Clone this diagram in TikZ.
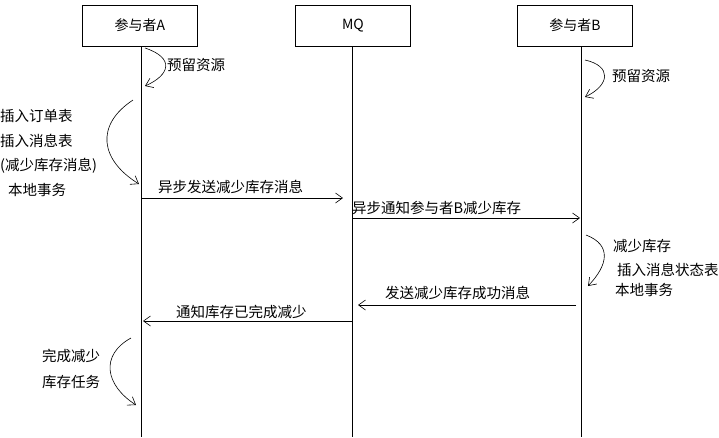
\documentclass[tikz,border=0pt]{standalone}
\usepackage{fontspec}
\setmainfont{Noto Sans CJK SC}
\usetikzlibrary{arrows.meta}
\begin{document}
\begin{tikzpicture}[x=1pt,y=-1pt,
  box/.style={draw,minimum width=115pt,minimum height=41pt,font=\fontsize{14}{16}\selectfont},
  lbl/.style={anchor=west,inner sep=0pt,font=\fontsize{14.5}{16}\selectfont},
  msg/.style={-{Straight Barb[length=7pt,width=10pt]},line width=0.6pt},
  life/.style={line width=0.6pt}]
\useasboundingbox[fill=white] (0,0) rectangle (719,437);
\node[box] (A) at (140,25.5) {参与者A};
\node[box] (M) at (353,25.5) {MQ};
\node[box] (B) at (575,25.5) {参与者B};
\coordinate (Ae) at (141,437); \coordinate (Me) at (352,437); \coordinate (Be) at (581,437);
\draw[life] (A.south -| Ae) -- (Ae);
\draw[life] (M.south -| Me) -- (Me);
\draw[life] (B.south -| Be) -- (Be);
% messages
\coordinate (m1a) at (141,198); \coordinate (m1b) at (343,198);
\draw[msg] (m1a) -- (m1b);
\node[lbl] at (158,187) {异步发送减少库存消息};
\coordinate (m2a) at (352,218); \coordinate (m2b) at (580,218);
\draw[msg] (m2a) -- (m2b);
\node[lbl] at (352,208) {异步通知参与者B减少库存};
\coordinate (m3a) at (576,305); \coordinate (m3b) at (358,305);
\draw[msg] (m3a) -- (m3b);
\node[lbl] at (385,293) {发送减少库存成功消息};
\coordinate (m4a) at (352,321); \coordinate (m4b) at (143,321);
\draw[msg] (m4a) -- (m4b);
\node[lbl] at (176,312) {通知库存已完成减少};
% self curves
\coordinate (s1a) at (145,48); \coordinate (s1b) at (145,86);
\draw[msg] (s1a) .. controls (175,58) and (170,75) .. (s1b);
\node[lbl] at (167,65) {预留资源};
\coordinate (s2a) at (133,100); \coordinate (s2b) at (139,184);
\draw[msg] (s2a) .. controls (95,125) and (100,160) .. (s2b);
\node[lbl] at (0,116) {插入订单表};
\node[lbl] at (0,141) {插入消息表};
\node[lbl] at (0,166) {(减少库存消息)};
\node[lbl] at (8,190) {本地事务};
\coordinate (s3a) at (585,60); \coordinate (s3b) at (585,97);
\draw[msg] (s3a) .. controls (612,66) and (610,85) .. (s3b);
\node[lbl] at (612,76) {预留资源};
\coordinate (s4a) at (586,235); \coordinate (s4b) at (588,286);
\draw[msg] (s4a) .. controls (612,245) and (608,265) .. (s4b);
\node[lbl] at (613,246) {减少库存};
\node[lbl] at (617,270) {插入消息状态表};
\node[lbl] at (615,290) {本地事务};
\coordinate (s5a) at (131,338); \coordinate (s5b) at (136,405);
\draw[msg] (s5a) .. controls (100,355) and (105,385) .. (s5b);
\node[lbl] at (42,356) {完成减少};
\node[lbl] at (42,382) {库存任务};
\end{tikzpicture}
\end{document}
